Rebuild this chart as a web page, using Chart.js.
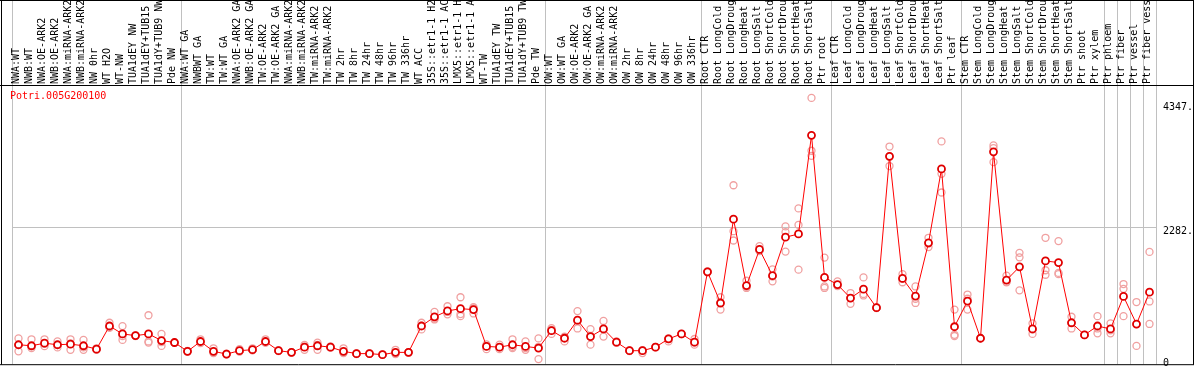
<!DOCTYPE html>
<html>
<head>
<meta charset="utf-8">
<script src="https://cdn.jsdelivr.net/npm/chart.js@4"></script>
<style>
  html, body { margin: 0; padding: 0; background: #fff; }
  canvas { display: block; }
</style>
</head>
<body>
<canvas id="expr-chart" width="1194" height="370"></canvas>
<script>
// Gene shown in the top-left corner of the plot
const geneId = 'Potri.005G200100';

// Sample names (x axis, printed on top)
const categories = [
  'NWA:WT', 'NWB:WT', 'NWA:OE-ARK2', 'NWB:OE-ARK2', 'NWA:miRNA-ARK2', 'NWB:miRNA-ARK2',
  'NW 0hr', 'WT H2O', 'WT-NW', 'TUA1dEY NW', 'TUA1dEY+TUB15', 'TUA1dY+TUB9 NW', 'Pde NW',
  'NWA:WT GA', 'NWBWT GA', 'TW:WT', 'TW:WT GA', 'NWA:OE-ARK2 GA', 'NWB:OE-ARK2 GA',
  'TW:OE-ARK2', 'TW:OE-ARK2 GA', 'NWA:miRNA-ARK2', 'NWB:miRNA-ARK2', 'TW:miRNA-ARK2',
  'TW:miRNA-ARK2', 'TW 2hr', 'TW 8hr', 'TW 24hr', 'TW 48hr', 'TW 96hr', 'TW 336hr',
  'WT ACC', '35S::etr1-1 H2O', '35S::etr1-1 ACC', 'LMX5::etr1-1 H2O', 'LMX5::etr1-1 ACC',
  'WT-TW', 'TUA1dEY TW', 'TUA1dEY+TUB15', 'TUA1dY+TUB9 TW', 'Pde TW',
  'OW:WT', 'OW:WT GA', 'OW:OE-ARK2', 'OW:OE-ARK2 GA', 'OW:miRNA-ARK2', 'OW:miRNA-ARK2',
  'OW 2hr', 'OW 8hr', 'OW 24hr', 'OW 48hr', 'OW 96hr', 'OW 336hr',
  'Root CTR', 'Root LongCold', 'Root LongDrought', 'Root LongHeat', 'Root LongSalt',
  'Root ShortCold', 'Root ShortDrought', 'Root ShortHeat', 'Root ShortSalt', 'Ptr root',
  'Leaf CTR', 'Leaf LongCold', 'Leaf LongDrought', 'Leaf LongHeat', 'Leaf LongSalt',
  'Leaf ShortCold', 'Leaf ShortDrought', 'Leaf ShortHeat', 'Leaf ShortSalt', 'Ptr leaf',
  'Stem CTR', 'Stem LongCold', 'Stem LongDrought', 'Stem LongHeat', 'Stem LongSalt',
  'Stem ShortCold', 'Stem ShortDrought', 'Stem ShortHeat', 'Stem ShortSalt', 'Ptr shoot',
  'Ptr xylem', 'Ptr phloem', 'Ptr fiber', 'Ptr vessel', 'Ptr fiber vessel'
];

// First sample index of each experiment block (vertical separators)
const groupStarts = [0, 13, 41, 53, 63, 73, 84, 85, 86, 87];

// Mean expression per sample
const meanValues = [
  324, 307, 350, 324, 334, 307, 251, 636, 504, 476, 504, 394, 361,
  214, 378, 214, 169, 225, 242, 378, 225, 197, 284, 307, 284, 214, 176, 176, 159, 197, 197,
  636, 789, 887, 925, 909, 296, 284, 324, 296, 268,
  559, 432, 734, 460, 587, 366, 225, 225, 284, 422, 504, 366,
  1539, 1019, 2415, 1309, 1911, 1474, 2115, 2169, 3812, 1446,
  1326, 1101, 1249, 941, 3462, 1429, 1134, 2021, 3253, 624,
  1052, 432, 3537, 1401, 1622, 587, 1720, 1692, 690, 488, 636,
  587, 1129, 669, 1199
];

// Individual replicates
const rep1 = [
  430, 415, 415, 380, 415, 405, 265, 690, 635, 480, 815, 505, 365,
  215, 415, 265, 170, 250, 265, 415, 230, 200, 240, 360, 295, 265, 175, 175, 160, 240, 200,
  690, 870, 965, 1115, 845, 250, 325, 415, 380, 430,
  505, 380, 885, 585, 720, 380, 225, 185, 285, 380, 505, 420,
  1540, 1115, 2980, 1390, 1965, 1580, 2295, 2595, 4435, 1775,
  1380, 1185, 1445, 940, 3625, 1500, 1295, 2105, 3710, 910,
  1160, 430, 3645, 1475, 1855, 680, 2105, 2050, 790, 490, 800,
  680, 1335, 1035, 1870
];
const rep2 = [
  215, 270, 300, 280, 240, 240, 245, 610, 405, 470, 380, 305, 355,
  210, 350, 185, 165, 215, 230, 360, 220, 195, 320, 240, 280, 185, 180, 175, 155, 180, 195,
  580, 745, 830, 835, 930, 300, 250, 270, 240, 85,
  600, 460, 595, 325, 460, 360, 220, 225, 280, 420, 500, 325,
  1530, 910, 2215, 1270, 1885, 1380, 2200, 2320, 3555, 1295,
  1310, 1005, 1145, 945, 3300, 1365, 1020, 1950, 3170, 470,
  910, 435, 3365, 1365, 1230, 505, 1565, 1500, 595, 485, 515,
  515, 1255, 305, 1045
];
const rep3 = [
  320, 300, 340, 320, 345, 280, 245, 610, 470, 475, 360, 370, 360,
  220, 370, 195, 175, 210, 235, 360, 225, 195, 290, 320, 275, 195, 170, 180, 165, 170, 195,
  640, 760, 870, 800, 950, 330, 280, 290, 270, 290,
  570, 450, 720, 470, 580, 355, 230, 235, 290, 430, 500, 360,
  1545, 1030, 2060, 1290, 1900, 1460, 1875, 1575, 3470, 1270,
  1300, 1100, 1170, 935, 3460, 1420, 1090, 2010, 2860, 490,
  1090, 430, 3600, 1370, 1780, 575, 1490, 1520, 690, 490, 595,
  565, 800, 667, 670
];

// Right-hand axis marks
const yTicks = [0, 2282, 4347];
const yMin = 0;
const yMax = 4650;

const monoFont = { family: 'DejaVu Sans Mono', size: 10 };

// Frame around the whole figure plus the divider under the labels, and the gene name
const framePlugin = {
  id: 'frame',
  afterDraw(chart) {
    const c = chart.ctx;
    const area = chart.chartArea;
    c.save();
    c.strokeStyle = '#000';
    c.lineWidth = 1;
    c.beginPath();
    c.moveTo(1.5, 0); c.lineTo(1.5, area.bottom + 0.5);
    c.moveTo(chart.width - 0.5, 0); c.lineTo(chart.width - 0.5, area.bottom + 0.5);
    c.moveTo(0, 0.5); c.lineTo(chart.width, 0.5);
    c.moveTo(0, area.top + 0.5); c.lineTo(chart.width, area.top + 0.5);
    c.moveTo(0, area.bottom + 0.5); c.lineTo(chart.width, area.bottom + 0.5);
    c.stroke();
    c.fillStyle = '#ff0000';
    c.font = '10px "DejaVu Sans Mono"';
    c.textBaseline = 'middle';
    c.fillText(geneId, 10, area.top + 11);
    c.restore();
  }
};

function repDataset(values) {
  return {
    data: values,
    showLine: false,
    pointStyle: 'circle',
    pointRadius: 3.5,
    pointBorderWidth: 1.3,
    pointBorderColor: '#f0a0a0',
    pointBackgroundColor: 'rgba(0,0,0,0)',
    order: 2
  };
}

new Chart(document.getElementById('expr-chart'), {
  type: 'line',
  data: {
    labels: categories,
    datasets: [
      {
        data: meanValues,
        borderColor: '#ff0000',
        borderWidth: 1,
        tension: 0,
        pointStyle: 'circle',
        pointRadius: 3.5,
        pointBorderWidth: 1.8,
        pointBorderColor: '#e00000',
        pointBackgroundColor: '#ffffff',
        order: 1
      },
      repDataset(rep1),
      repDataset(rep2),
      repDataset(rep3)
    ]
  },
  options: {
    responsive: false,
    animation: false,
    devicePixelRatio: 1,
    layout: { padding: { left: 12, right: 0, top: 0, bottom: 2 } },
    plugins: {
      legend: { display: false },
      tooltip: { enabled: false },
      title: { display: false }
    },
    scales: {
      x: {
        position: 'top',
        offset: true,
        grid: {
          offset: true,
          tickLength: 85,
          lineWidth: 1,
          color: function(ctx) {
            if (ctx.index === undefined) return '#c0c0c0';
            return groupStarts.includes(ctx.index) ? '#c0c0c0' : 'rgba(0,0,0,0)';
          }
        },
        border: { display: false },
        ticks: {
          autoSkip: false,
          minRotation: 90,
          maxRotation: 90,
          padding: -84,
          labelOffset: 10,
          color: '#000',
          font: monoFont
        },
        afterFit: function(scale) {
          scale.height = 85;
          scale.paddingLeft = 0;
          scale.paddingRight = 0;
        }
      },
      y: {
        position: 'right',
        min: yMin,
        max: yMax,
        afterBuildTicks: function(scale) {
          scale.ticks = yTicks.map(v => ({ value: v }));
        },
        grid: {
          drawTicks: false,
          color: ctx => (ctx.tick && ctx.tick.value === 2282) ? '#c0c0c0' : 'rgba(0,0,0,0)'
        },
        border: { display: false },
        ticks: {
          autoSkip: false,
          padding: 7,
          color: '#000',
          font: { family: 'DejaVu Sans Mono', size: 10, lineHeight: 1 },
          labelOffset: 4,
          // marks sit just under their value; the "0" is pushed up (one blank line) to stay in the frame
          callback: v => v === 0 ? ['0', ''] : v + '.'
        },
        afterFit: function(scale) {
          scale.width = 38;
          scale.paddingTop = 0;
          scale.paddingBottom = 0;
        }
      }
    }
  },
  plugins: [framePlugin]
});
</script>
</body>
</html>
